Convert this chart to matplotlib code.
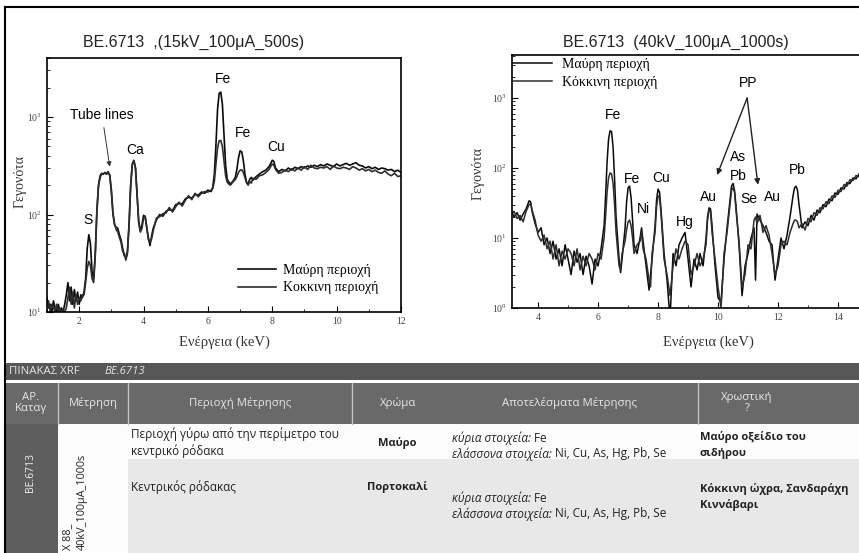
import matplotlib.pyplot as plt
from matplotlib.patches import Rectangle
from matplotlib.ticker import MultipleLocator, LogLocator, NullFormatter

# ---- spectrum 1: 15kV_100uA_500s (energy keV, counts) ----
energy_15kv = [1.00, 1.05, 1.10, 1.15, 1.20, 1.25, 1.30, 1.35, 1.40, 1.45, 1.50, 1.55,
               1.60, 1.65, 1.70, 1.75, 1.80, 1.85, 1.90, 1.95, 2.00, 2.05, 2.10, 2.15,
               2.20, 2.25, 2.30, 2.35, 2.40, 2.45, 2.50, 2.55, 2.60, 2.65, 2.70, 2.75,
               2.80, 2.85, 2.90, 2.95, 3.00, 3.05, 3.10, 3.15, 3.20, 3.25, 3.30, 3.35,
               3.40, 3.45, 3.50, 3.55, 3.60, 3.65, 3.70, 3.75, 3.80, 3.85, 3.90, 3.95,
               4.00, 4.05, 4.10, 4.15, 4.20, 4.25, 4.30, 4.40, 4.50, 4.60, 4.70, 4.80,
               4.90, 5.00, 5.10, 5.20, 5.30, 5.40, 5.50, 5.60, 5.70, 5.80, 5.90, 6.00,
               6.10, 6.15, 6.20, 6.25, 6.30, 6.35, 6.40, 6.45, 6.50, 6.55, 6.60, 6.65,
               6.70, 6.75, 6.80, 6.85, 6.90, 6.95, 7.00, 7.05, 7.10, 7.15, 7.20, 7.25,
               7.30, 7.35, 7.40, 7.50, 7.60, 7.70, 7.80, 7.90, 8.00, 8.05, 8.10, 8.20,
               8.30, 8.40, 8.50, 8.60, 8.70, 8.80, 8.90, 9.00, 9.10, 9.20, 9.30, 9.40,
               9.50, 9.60, 9.70, 9.80, 9.90, 10.00, 10.10, 10.20, 10.30, 10.40, 10.50,
               10.60, 10.70, 10.80, 10.90, 11.00, 11.10, 11.20, 11.30, 11.40, 11.50,
               11.60, 11.70, 11.80, 11.90, 12.00]
black_15kv = [14, 11, 12, 10, 13, 11, 10, 12, 10, 11, 10, 12,
              15, 20, 13, 18, 12, 17, 13, 16, 12, 15, 14, 16,
              22, 45, 62, 50, 26, 22, 40, 110, 200, 250, 265, 258,
              270, 262, 275, 250, 170, 100, 78, 74, 72, 62, 55, 45,
              38, 36, 42, 80, 200, 330, 360, 300, 160, 85, 68, 78,
              98, 95, 72, 58, 48, 60, 72, 88, 100, 96, 108, 112,
              110, 126, 130, 128, 145, 150, 148, 160, 158, 170, 165, 178,
              172, 190, 260, 520, 1200, 1750, 1800, 1350, 650, 320, 230, 215,
              205, 215, 225, 240, 290, 380, 450, 440, 360, 260, 215, 205,
              230, 240, 225, 245, 260, 275, 285, 310, 360, 350, 300, 275,
              290, 280, 300, 285, 305, 295, 310, 300, 315, 305, 320, 310,
              325, 315, 330, 320, 310, 330, 315, 325, 335, 320, 330,
              340, 320, 315, 300, 310, 295, 305, 290, 300, 295,
              285, 290, 275, 285, 270]
red_15kv = [12, 13, 10, 12, 11, 10, 12, 10, 11, 10, 10.5, 10,
            11, 14, 18, 12, 16, 11, 15, 12, 14, 13, 15, 15,
            20, 28, 33, 30, 22, 20, 38, 105, 195, 240, 260, 262,
            268, 258, 270, 255, 180, 105, 80, 70, 66, 58, 52, 42,
            40, 34, 40, 78, 195, 325, 355, 295, 155, 82, 66, 72,
            92, 96, 75, 55, 52, 56, 68, 92, 95, 102, 104, 118,
            106, 120, 134, 122, 140, 156, 142, 165, 152, 165, 172, 170,
            178, 185, 220, 330, 480, 570, 575, 500, 350, 250, 215, 205,
            200, 210, 220, 228, 245, 270, 285, 288, 270, 240, 212, 200,
            218, 210, 235, 230, 250, 255, 270, 290, 330, 320, 290, 265,
            270, 285, 275, 295, 280, 300, 285, 310, 290, 320, 300, 295,
            305, 300, 310, 290, 315, 300, 295, 305, 300, 290, 310,
            300, 285, 295, 280, 290, 275, 285, 270, 265, 280,
            260, 250, 265, 245, 250]

# ---- spectrum 2: 40kV_100uA_1000s ----
energy_40kv = [3.1, 3.2, 3.3, 3.4, 3.5, 3.6, 3.7, 3.75, 3.8, 3.9, 4.0, 4.1, 4.2, 4.3,
               4.4, 4.5, 4.6, 4.7, 4.8, 4.9, 5.0, 5.1, 5.2, 5.3, 5.4, 5.5, 5.6, 5.7,
               5.8, 5.9, 6.0, 6.1, 6.2, 6.25, 6.3, 6.35, 6.4, 6.45, 6.5, 6.55, 6.6,
               6.7, 6.75, 6.8, 6.9, 6.95, 7.0, 7.05, 7.1, 7.15, 7.2, 7.3, 7.4, 7.45,
               7.5, 7.6, 7.7, 7.75, 7.8, 7.9, 7.95, 8.0, 8.05, 8.1, 8.2, 8.3, 8.4,
               8.5, 8.6, 8.7, 8.8, 8.9, 9.0, 9.1, 9.2, 9.3, 9.4, 9.5, 9.6, 9.65, 9.7,
               9.75, 9.8, 9.9, 10.0, 10.1, 10.2, 10.3, 10.4, 10.45, 10.5, 10.55, 10.6,
               10.7, 10.8, 10.9, 11.0, 11.1, 11.2, 11.25, 11.3, 11.4, 11.5, 11.6, 11.7,
               11.8, 11.9, 12.0, 12.1, 12.2, 12.3, 12.4, 12.5, 12.55, 12.6, 12.65,
               12.7, 12.8, 12.9, 13.0, 13.1, 13.2, 13.3, 13.4, 13.5, 13.6, 13.7, 13.8,
               13.9, 14.0, 14.1, 14.2, 14.3, 14.4, 14.5, 14.6, 14.7]
black_40kv = [25, 20, 23, 18, 22, 26, 34, 33, 24, 16, 12, 14, 8, 10,
              6, 9, 5, 7, 4, 8, 5, 3, 6.5, 4.5, 6, 3, 5.5, 4,
              2.2, 5, 4, 7, 15, 40, 120, 260, 340, 330, 200, 70, 20,
              5, 3.2, 5, 14, 32, 52, 55, 38, 18, 8, 6, 10, 14,
              9, 4, 1.8, 3, 5, 15, 35, 50, 45, 25, 6, 2.5, 0.7,
              6, 4, 8, 10, 12, 5, 2.0, 5, 3.5, 6, 4, 10, 20, 27,
              26, 15, 4, 1.4, 1.2, 5, 14, 35, 55, 60, 48, 28,
              8, 1.5, 4, 6, 10, 14, 2.5, 22, 18, 15, 12, 9,
              8, 2.5, 5, 10, 7, 11, 20, 40, 52, 55, 48,
              30, 14, 17, 15, 21, 18, 25, 23, 30, 28, 36, 34,
              44, 42, 52, 50, 62, 60, 72, 70, 82]
red_40kv = [22, 24, 19, 21, 17, 24, 30, 31, 25, 18, 11, 9, 11, 7,
            9, 5, 8, 4, 6.5, 5, 7, 6, 4, 7, 3.5, 5.5, 4, 6,
            5, 3.5, 6, 5, 10, 20, 45, 72, 85, 82, 60, 30, 12,
            4, 3.5, 6, 9, 13, 17, 18, 15, 10, 6, 8, 9, 12,
            7, 5, 2.5, 2, 6, 12, 28, 40, 38, 22, 5, 3, 1.5,
            4, 7, 5, 7, 9, 8, 3, 4, 6, 4, 5, 8, 18, 25,
            24, 12, 5, 2, 1.0, 6, 12, 30, 48, 52, 45, 25,
            9, 2, 3, 8, 7, 18, 20, 16, 21, 12, 15, 11,
            6, 3, 4, 8, 9, 8, 12, 16, 18, 18, 17,
            14, 16, 13, 19, 17, 23, 21, 27, 26, 33, 31, 40,
            38, 48, 46, 58, 55, 68, 66, 78, 75]

legend_labels_15 = ['Μαύρη περιοχή', 'Κοκκινη περιοχή']
legend_labels_40 = ['Μαύρη περιοχή', 'Κόκκινη περιοχή']

plt.rcParams['font.family'] = ['Liberation Sans', 'DejaVu Sans']
plt.rcParams['mathtext.fontset'] = 'stix'
SERIF = 'Liberation Serif'
TBL = 'Open Sans'

W, H = 859, 553
fig = plt.figure(figsize=(W / 100, H / 100), dpi=100)

# background layer in pixel coords: frame + table
bg = fig.add_axes([0, 0, 1, 1])
bg.set_xlim(0, W)
bg.set_ylim(H, 0)
bg.axis('off')


def box(x0, y0, x1, y1, color):
    bg.add_patch(Rectangle((x0, y0), x1 - x0, y1 - y0, facecolor=color, edgecolor='none'))


box(5, 363, W, 380, '#575757')
box(5, 383, W, 424, '#696969')
box(5, 424, 58, H, '#5e5e5e')
box(58, 424, W, 459, '#fcfcfc')
box(58, 459, 128, H, '#fcfcfc')
box(128, 459, W, H, '#e8e8e8')
for x in (58, 128, 352, 698):
    bg.plot([x, x], [383, 424], color='#c4c4c4', lw=1)
bg.plot([5, 5], [7, H], color='black', lw=1.5)
bg.plot([5, W], [7, 7], color='black', lw=1.5)

hdr = dict(color='#e6e6e6', fontsize=8.2, family=TBL, va='center')
bg.text(9, 372, 'ΠΙΝΑΚΑΣ XRF', ha='left', **hdr)
bg.text(105, 372, 'ΒΕ.6713', style='italic', ha='left', **hdr)
bg.text(31, 403, 'ΑΡ.\nΚαταγ', ha='center', linespacing=1.0, **hdr)
bg.text(93, 403, 'Μέτρηση', ha='center', **hdr)
bg.text(240, 403, 'Περιοχή Μέτρησης', ha='center', **hdr)
bg.text(398, 403, 'Χρώμα', ha='center', **hdr)
bg.text(570, 403, 'Αποτελέσματα Μέτρησης', ha='center', **hdr)
bg.text(747, 403, 'Χρωστική\n?', ha='center', linespacing=1.0, **hdr)

bg.text(30, 473, 'ΒΕ.6713', rotation=90, color='#f0f0f0', fontsize=7.5, family=TBL,
        ha='center', va='center')
bg.text(75, 550, 'X 88_\n40kV_100μA_1000s', rotation=90, color='#222222', fontsize=7.8,
        family=TBL, ha='center', va='bottom', linespacing=1.35, multialignment='left')

cell = dict(color='#222222', fontsize=8.5, family=TBL, va='center')
bold = dict(cell, fontsize=8, fontweight='bold')
bg.text(131, 443, 'Περιοχή γύρω από την περίμετρο του\nκεντρικό ρόδακα', ha='left',
        linespacing=1.3, **cell)
bg.text(131, 487, 'Κεντρικός ρόδακας', ha='left', **cell)
bg.text(397, 443, 'Μαύρο', ha='center', **bold)
bg.text(397, 487, 'Πορτοκαλί', ha='center', **bold)
for y in (438, 498):
    t1 = bg.text(452, y, 'κύρια στοιχεία:', ha='left', style='italic', **cell)
    bg.annotate(' Fe', xy=(1, 0.5), xycoords=t1, ha='left', **cell)
    t2 = bg.text(452, y + 16, 'ελάσσονα στοιχεία:', ha='left', style='italic', **cell)
    bg.annotate(' Ni, Cu, As, Hg, Pb, Se', xy=(1, 0.5), xycoords=t2, ha='left', **cell)
bg.text(700, 445, 'Μαύρο οξείδιο του\nσιδήρου', ha='left', linespacing=1.5, **bold)
bg.text(700, 497, 'Κόκκινη ώχρα, Σανδαράχη\nΚιννάβαρι', ha='left', linespacing=1.5, **bold)


def style_axes(ax):
    ax.set_facecolor('none')
    ax.set_yscale('log')
    ax.xaxis.set_minor_locator(MultipleLocator(1))
    ax.yaxis.set_minor_locator(LogLocator(subs=range(2, 10)))
    ax.yaxis.set_minor_formatter(NullFormatter())
    ax.tick_params(which='both', direction='in', top=False, right=False,
                   labelsize=7, labelcolor='#444444', labelfontfamily=SERIF)
    ax.tick_params(which='major', length=4)
    ax.tick_params(which='minor', length=2)
    for s in ax.spines.values():
        s.set_linewidth(1.2)


# ---- left spectrum ----
axL = fig.add_axes([47 / W, 241 / H, 354 / W, 254 / H])
style_axes(axL)
l1, = axL.plot(energy_15kv, black_15kv, color='#0a0a0a', lw=1.2)
l2, = axL.plot(energy_15kv, red_15kv, color='#2e2e2e', lw=1.2)
axL.set_xlim(1, 12)
axL.set_ylim(10, 4030)
axL.set_xticks([2, 4, 6, 8, 10, 12])
axL.legend([l1, l2], legend_labels_15, loc='lower left', bbox_to_anchor=(0.505, 0.02),
           frameon=False, handlelength=2.7, handletextpad=0.5, labelspacing=0.35,
           prop={'family': SERIF, 'size': 10})
lab = dict(fontsize=10, ha='center', va='center')
axL.text(2.28, 10 ** 1.94, 'S', **lab)
axL.text(3.73, 10 ** 2.66, 'Ca', **lab)
axL.text(6.47, 10 ** 3.39, 'Fe', **lab)
axL.text(7.08, 10 ** 2.84, 'Fe', **lab)
axL.text(8.13, 10 ** 2.69, 'Cu', **lab)
axL.annotate('Tube lines', xy=(2.95, 10 ** 2.49), xytext=(2.71, 10 ** 3.02), fontsize=10,
             ha='center', va='center',
             arrowprops=dict(arrowstyle='-|>', color='#333333', lw=0.7,
                             mutation_scale=7, shrinkA=2, shrinkB=0))

# ---- right spectrum ----
axR = fig.add_axes([512 / W, 245 / H, 347 / W, 253 / H])
style_axes(axR)
axR.spines['right'].set_visible(False)
r1, = axR.plot(energy_40kv, black_40kv, color='#0a0a0a', lw=1.1)
r2, = axR.plot(energy_40kv, red_40kv, color='#2e2e2e', lw=1.1)
axR.set_xlim(3.13, 14.7)
axR.set_ylim(1, 4110)
axR.set_xticks([4, 6, 8, 10, 12, 14])
axR.legend([r1, r2], legend_labels_40, loc='upper left', bbox_to_anchor=(-0.005, 1.0),
           frameon=False, handlelength=2.8, handletextpad=0.7, labelspacing=0.35,
           borderpad=0.2, borderaxespad=0, prop={'family': SERIF, 'size': 10})
axR.text(6.5, 10 ** 2.76, 'Fe', **lab)
axR.text(7.13, 10 ** 1.84, 'Fe', **lab)
axR.text(7.5, 10 ** 1.41, 'Ni', **lab)
axR.text(8.1, 10 ** 1.86, 'Cu', **lab)
axR.text(8.9, 10 ** 1.23, 'Hg', **lab)
axR.text(9.67, 10 ** 1.59, 'Au', **lab)
axR.text(10.67, 10 ** 2.16, 'As', **lab)
axR.text(10.67, 10 ** 1.89, 'Pb', **lab)
axR.text(11.03, 10 ** 1.56, 'Se', **lab)
axR.text(11.83, 10 ** 1.58, 'Au', **lab)
axR.text(12.63, 10 ** 1.97, 'Pb', **lab)
axR.text(11.0, 10 ** 3.21, 'PP', **lab)
for end in [(9.97, 10 ** 1.9), (11.33, 10 ** 1.76)]:
    axR.annotate('', xy=end, xytext=(10.97, 10 ** 3.0),
                 arrowprops=dict(arrowstyle='-|>', color='#222222', lw=1.0,
                                 mutation_scale=8, shrinkA=0, shrinkB=0))

# titles and axis labels
fig.text(194 / W, 1 - 42 / H, 'BE.6713  ,(15kV_100μA_500s)', fontsize=11.5,
         ha='center', va='center', color='#222222')
fig.text(676 / W, 1 - 42 / H, 'BE.6713  (40kV_100μA_1000s)', fontsize=11.5,
         ha='center', va='center', color='#222222')
for x, y in [(20, 182), (478, 173)]:
    fig.text(x / W, 1 - y / H, 'Γεγονότα', rotation=90, family=SERIF, fontsize=10,
             ha='center', va='center', color='#333333')
for x in (224, 708):
    fig.text(x / W, 1 - 342 / H, 'Ενέργεια (keV)', family=SERIF, fontsize=10.5,
             ha='center', va='center', color='#333333')

fig.savefig('out.png', dpi=100)
